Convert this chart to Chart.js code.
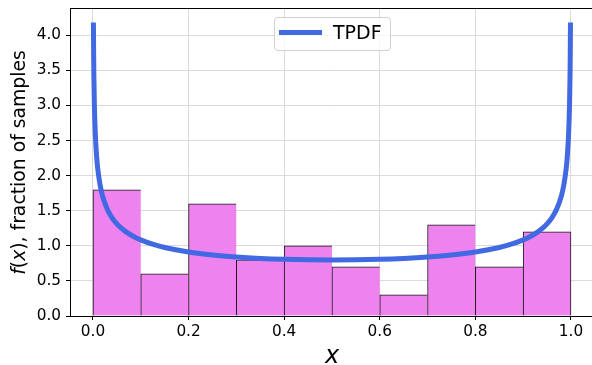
<!DOCTYPE html>
<html>
<head>
<meta charset="utf-8">
<script src="https://cdn.jsdelivr.net/npm/chart.js@4.4.1/dist/chart.umd.min.js"></script>
<style>
  html, body { margin: 0; padding: 0; background: #fff; overflow: hidden; }
  #wrap { position: relative; width: 592px; height: 365px; }
  #legend {
    position: absolute; left: 274px; top: 17px; width: 117px; height: 34px;
    box-sizing: border-box; border: 1px solid #d0d0d0; border-radius: 4px;
    background: rgba(255, 255, 255, 0.8);
    font-family: 'DejaVu Sans', sans-serif; font-size: 19px; color: #000;
  }
  #legend .swatch { position: absolute; left: 4px; top: 12px; width: 43px; height: 5px; }
  #legend .label { position: absolute; left: 58px; top: 3px; line-height: normal; }
</style>
</head>
<body>
<div id="wrap">
  <canvas id="chart" width="592" height="365"></canvas>
  <div id="legend"></div>
</div>
<script>
// histogram: 10 bins on [0, 1], density heights
const binEdges = [0.0, 0.1, 0.2, 0.3, 0.4, 0.5, 0.6, 0.7, 0.8, 0.9, 1.0];
const binHeights = [1.8, 0.6, 1.6, 0.8, 1.0, 0.7, 0.3, 1.3, 0.7, 1.2];

// theoretical pdf curve
const curveX = [0.001, 0.0015, 0.002, 0.003, 0.004, 0.005, 0.0075, 0.01, 0.015, 0.02, 0.03, 0.04,
  0.05, 0.06, 0.07, 0.085, 0.1, 0.125, 0.15, 0.2, 0.25, 0.3, 0.35, 0.4, 0.45, 0.5,
  0.55, 0.6, 0.65, 0.7, 0.75, 0.8, 0.85, 0.875, 0.9, 0.915, 0.93, 0.94, 0.95, 0.96,
  0.97, 0.98, 0.985, 0.99, 0.9925, 0.995, 0.996, 0.997, 0.998, 0.9985, 0.999];
const curveY = [4.184, 3.705, 3.399, 3.011, 2.763, 2.585, 2.291, 2.103, 1.865, 1.713, 1.522, 1.400,
  1.314, 1.248, 1.195, 1.133, 1.085, 1.023, 0.977, 0.913, 0.870, 0.841, 0.821, 0.808, 0.801, 0.798,
  0.801, 0.808, 0.821, 0.841, 0.870, 0.913, 0.977, 1.023, 1.085, 1.133, 1.195, 1.248, 1.314, 1.400,
  1.522, 1.713, 1.865, 2.103, 2.291, 2.585, 2.763, 3.011, 3.399, 3.705, 4.184];

const xTicks = [0.0, 0.2, 0.4, 0.6, 0.8, 1.0];
const yTicks = [0.0, 0.5, 1.0, 1.5, 2.0, 2.5, 3.0, 3.5, 4.0];

const FONT = "'DejaVu Sans', sans-serif";
const LINE_COLOR = '#4169E1';

const barData = binHeights.map((h, i) => ({ x: (binEdges[i] + binEdges[i + 1]) / 2, y: h }));
const lineData = curveX.map((x, i) => ({ x, y: curveY[i] }));

const gridOpts = {
  offset: false,
  color: '#dadada',
  lineWidth: 1,
  borderDash: [1, 1],
  tickColor: '#000',
  tickLength: 4,
  tickWidth: 1,
  tickBorderDash: [],
};

// top spine, drawn over everything like matplotlib's frame
const topSpine = {
  id: 'topSpine',
  afterDraw(chart) {
    const { ctx, chartArea: a } = chart;
    ctx.save();
    ctx.strokeStyle = '#000';
    ctx.lineWidth = 1;
    ctx.beginPath();
    ctx.moveTo(a.left, a.top + 0.5);
    ctx.lineTo(a.right, a.top + 0.5);
    ctx.stroke();
    ctx.restore();
  }
};

// axis labels with mathtext-like italics
const axisLabels = {
  id: 'axisLabels',
  afterDraw(chart) {
    const { ctx } = chart;
    ctx.save();
    ctx.fillStyle = '#000';
    ctx.textBaseline = 'alphabetic';

    // x label
    ctx.font = `italic 24px ${FONT}`;
    ctx.textAlign = 'center';
    ctx.fillText('x', 332, 363);

    // y label
    const parts = [
      ['f', 'italic'], ['(', 'normal'], ['x', 'italic'], [')', 'normal'], [', fraction of samples', 'normal']
    ];
    const size = 18.8;
    let total = 0;
    parts.forEach(p => {
      ctx.font = `${p[1]} ${size}px ${FONT}`;
      total += ctx.measureText(p[0]).width;
    });
    ctx.translate(25, 162.5);
    ctx.rotate(-Math.PI / 2);
    ctx.textAlign = 'left';
    let cx = -total / 2;
    parts.forEach(p => {
      ctx.font = `${p[1]} ${size}px ${FONT}`;
      ctx.fillText(p[0], cx, 0);
      cx += ctx.measureText(p[0]).width;
    });
    ctx.restore();
  }
};

const chart = new Chart(document.getElementById('chart'), {
  data: {
    datasets: [
      {
        type: 'bar',
        label: 'samples',
        data: barData,
        backgroundColor: '#EE82EE',
        borderColor: 'rgba(0, 0, 0, 0.9)',
        borderWidth: ctx => ({ left: 1, top: 1, bottom: 0, right: ctx.dataIndex === binHeights.length - 1 ? 1 : 0 }),
        borderSkipped: false,
        barPercentage: 1.0,
        categoryPercentage: 1.0,
        order: 2,
      },
      {
        type: 'line',
        label: 'TPDF',
        data: lineData,
        borderColor: LINE_COLOR,
        borderWidth: 5,
        borderCapStyle: 'butt',
        pointRadius: 0,
        cubicInterpolationMode: 'monotone',
        fill: false,
        order: 1,
      },
    ],
  },
  options: {
    responsive: false,
    animation: false,
    layout: { padding: { top: 8, right: 0, left: 0, bottom: 0 } },
    plugins: {
      legend: { display: false },
      tooltip: { enabled: false },
    },
    scales: {
      x: {
        type: 'linear',
        offset: false,
        min: -0.048,
        max: 1.044,
        afterBuildTicks: s => { s.ticks = xTicks.map(v => ({ value: v })); },
        afterFit: s => { s.height = 49; s.paddingLeft = 0; s.paddingRight = 0; },
        grid: gridOpts,
        border: { display: true, color: '#000', width: 1 },
        ticks: {
          color: '#000',
          font: { family: FONT, size: 15.3 },
          padding: 3,
          maxRotation: 0,
          callback: v => v.toFixed(1),
        },
      },
      y: {
        type: 'linear',
        min: 0,
        max: 4.39,
        afterBuildTicks: s => { s.ticks = yTicks.map(v => ({ value: v })); },
        afterFit: s => { s.width = 70; s.paddingTop = 0; s.paddingBottom = 0; },
        grid: gridOpts,
        border: { display: true, color: '#000', width: 1 },
        ticks: {
          color: '#000',
          font: { family: FONT, size: 15.3 },
          padding: 5,
          callback: v => v.toFixed(1),
        },
      },
    },
  },
  plugins: [topSpine, axisLabels],
});

// legend box inside the axes, like matplotlib's
const legendEl = document.getElementById('legend');
chart.data.datasets.filter(d => d.type === 'line').forEach(d => {
  const sw = document.createElement('span');
  sw.className = 'swatch';
  sw.style.background = d.borderColor;
  const lb = document.createElement('span');
  lb.className = 'label';
  lb.textContent = d.label;
  legendEl.appendChild(sw);
  legendEl.appendChild(lb);
});
</script>
</body>
</html>
